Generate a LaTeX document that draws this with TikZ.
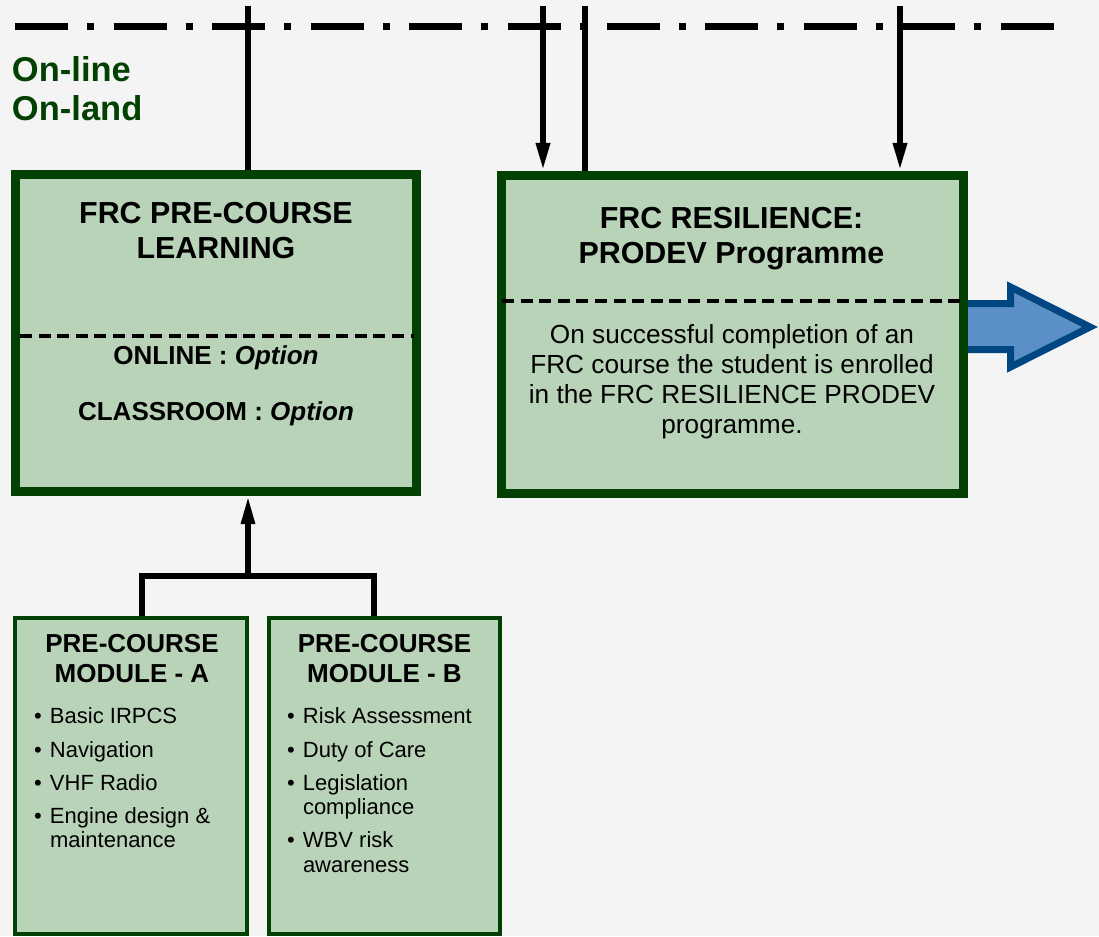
\documentclass[tikz,border=0pt]{standalone}
\usepackage{fontspec}
\setmainfont{Liberation Sans}
\usetikzlibrary{arrows.meta}

\definecolor{bg}{HTML}{F4F4F4}
\definecolor{boxgreen}{HTML}{034103}
\definecolor{boxfill}{HTML}{B9D3B9}
\definecolor{arrowfill}{HTML}{5B8FC8}
\definecolor{arrowline}{HTML}{004680}

\tikzset{
  bigbox/.style={draw=boxgreen, line width=9pt, fill=boxfill, inner sep=0pt},
  modbox/.style={draw=boxgreen, line width=4pt, fill=boxfill, inner sep=0pt},
  wire/.style={line width=6pt, draw=black},
  link/.style={line width=5.5pt, draw=black, line join=miter},
  tipdown/.style={-{Triangle[length=28pt,width=13pt]}},
  sepline/.style={line width=3.5pt, dash pattern=on 12pt off 6.6pt},
  dashdotline/.style={line width=7pt, dash pattern=on 53pt off 19pt on 7pt off 19.6pt},
  txt/.style={inner sep=0pt, outer sep=0pt, anchor=base},
  ttl/.style={txt, font=\fontsize{30.4}{35}\selectfont\bfseries},
  opt/.style={txt, font=\fontsize{26}{30}\selectfont\bfseries},
  body/.style={txt, font=\fontsize{26.2}{30}\selectfont},
  modttl/.style={txt, font=\fontsize{26}{30}\selectfont\bfseries},
  item/.style={txt, anchor=base west, font=\fontsize{22}{25}\selectfont},
  side/.style={txt, anchor=base west, text=boxgreen, font=\fontsize{34.5}{39}\selectfont\bfseries},
}
\newcommand{\bul}{\makebox[16pt][l]{•}}

\begin{document}
\begin{tikzpicture}[x=1pt, y=-1pt]
  % canvas
  \fill[bg] (0,0) rectangle (1099,936);
  \useasboundingbox (0,0) rectangle (1099,936);

  % dash-dot boundary line
  \coordinate (lineL) at (15,27);
  \coordinate (lineR) at (1055,27);
  \draw[dashdotline] (lineL) -- (lineR);

  % side label
  \node[side] (online) at (12,82) {On-line};
  \node[side] (onland) at (12,121) {On-land};

  % outgoing block arrow (drawn first so the box covers its tail)
  \filldraw[fill=arrowfill, draw=arrowline, line width=7pt, line join=miter]
    (955,303.5) -- (1010.5,303.5) -- (1010.5,287) -- (1090,327)
    -- (1010.5,367) -- (1010.5,349.5) -- (955,349.5) -- cycle;

  % main boxes
  \node[bigbox, minimum width=401pt, minimum height=317pt] (pre) at (216,333) {};
  \node[bigbox, minimum width=462pt, minimum height=318pt] (prodev) at (732.5,334.5) {};

  % dashed separators
  \coordinate (preSepL) at (20,336);
  \coordinate (preSepR) at (414,336);
  \draw[sepline] (preSepL) -- (preSepR);
  \coordinate (proSepL) at (502,301);
  \coordinate (proSepR) at (965,301);
  \draw[sepline] (proSepL) -- (proSepR);

  % pre-course box text
  \node[ttl] (preT1) at (216,223) {FRC PRE-COURSE};
  \node[ttl] (preT2) at (216,258) {LEARNING};
  \node[opt] (preO1) at (216,364) {ONLINE : \textit{Option}};
  \node[opt] (preO2) at (216,420) {CLASSROOM : \textit{Option}};

  % resilience box text
  \node[ttl] (proT1) at (731.5,228) {FRC RESILIENCE:};
  \node[ttl] (proT2) at (731.5,263) {PRODEV Programme};
  \node[body] (proB1) at (732,343) {On successful completion of an};
  \node[body] (proB2) at (732,373) {FRC course the student is enrolled};
  \node[body] (proB3) at (732,403) {in the FRC RESILIENCE PRODEV};
  \node[body] (proB4) at (732,433) {programme.};

  % module boxes
  \node[modbox, minimum width=232pt, minimum height=316pt] (modA) at (131,776) {};
  \node[modbox, minimum width=231pt, minimum height=316pt] (modB) at (384.5,776) {};

  \node[modttl] (aT1) at (132,652) {PRE-COURSE};
  \node[modttl] (aT2) at (132,682) {MODULE - A};
  \node[item] (a1) at (34,723) {\bul Basic IRPCS};
  \node[item] (a2) at (34,757) {\bul Navigation};
  \node[item] (a3) at (34,790) {\bul VHF Radio};
  \node[item] (a4) at (34,823) {\bul Engine design \&};
  \node[item] (a4b) at (50,847) {maintenance};

  \node[modttl] (bT1) at (384.5,652) {PRE-COURSE};
  \node[modttl] (bT2) at (384.5,682) {MODULE - B};
  \node[item] (b1) at (287,723) {\bul Risk Assessment};
  \node[item] (b2) at (287,757) {\bul Duty of Care};
  \node[item] (b3) at (287,790) {\bul Legislation};
  \node[item] (b3b) at (303,814) {compliance};
  \node[item] (b4) at (287,847) {\bul WBV risk};
  \node[item] (b4b) at (303,872) {awareness};

  % feeds from the boundary line
  \coordinate (s1) at (248,6);
  \coordinate (s2) at (543,6);
  \coordinate (s3) at (585,6);
  \coordinate (s4) at (900,6);
  \draw[wire] (s1) -- (s1 |- pre.north);
  \draw[wire, tipdown] (s2) -- (s2 |- prodev.north);
  \draw[wire] (s3) -- (s3 |- prodev.north);
  \draw[wire, tipdown] (s4) -- (s4 |- prodev.north);

  % modules join and feed the pre-course box
  \coordinate (ja) at (142,576);
  \coordinate (jb) at (374,576);
  \coordinate (jm) at (248,576);
  \draw[link] (modA.north -| ja) -- (ja) -- (jb) -- (modB.north -| jb);
  \draw[link, tipdown] (jm) -- (jm |- pre.south);
\end{tikzpicture}
\end{document}
